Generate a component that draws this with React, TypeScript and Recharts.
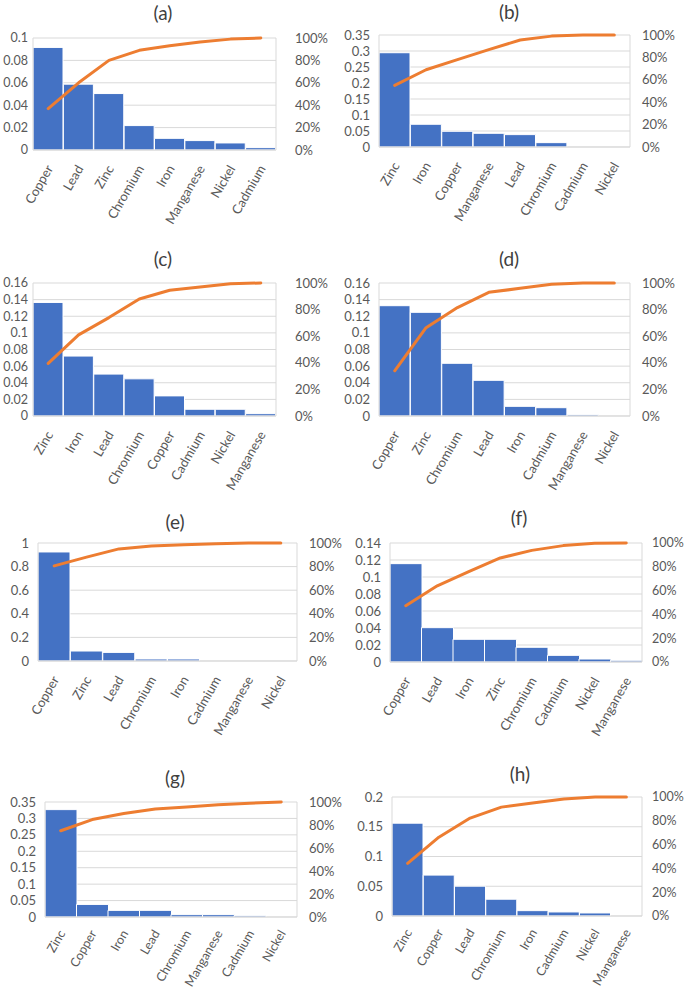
import React from 'react';
import { ComposedChart, Bar, Line, XAxis, YAxis, CartesianGrid } from 'recharts';

// ---- data ----
const catsA = ['Copper', 'Lead', 'Zinc', 'Chromium', 'Iron', 'Manganese', 'Nickel', 'Cadmium'];
const valsA = [0.0916, 0.0588, 0.0504, 0.0218, 0.0104, 0.0084, 0.0063, 0.0021];
const cumA = [37, 60, 80, 89, 93, 96.5, 99, 100];
const ticksA = [0, 0.02, 0.04, 0.06, 0.08, 0.1];

const catsB = ['Zinc', 'Iron', 'Copper', 'Manganese', 'Lead', 'Chromium', 'Cadmium', 'Nickel'];
const valsB = [0.2946, 0.071, 0.0491, 0.0428, 0.0387, 0.0136, 0, 0];
const cumB = [55, 69, 78, 87, 95.5, 99, 100, 100];
const ticksB = [0, 0.05, 0.1, 0.15, 0.2, 0.25, 0.3, 0.35];

const catsC = ['Zinc', 'Iron', 'Lead', 'Chromium', 'Copper', 'Cadmium', 'Nickel', 'Manganese'];
const valsC = [0.1366, 0.0721, 0.0504, 0.0447, 0.0242, 0.0081, 0.0081, 0.0028];
const cumC = [39.5, 61, 74, 88, 94.5, 97, 99.5, 100];
const ticksC = [0, 0.02, 0.04, 0.06, 0.08, 0.1, 0.12, 0.14, 0.16];

const catsD = ['Copper', 'Zinc', 'Chromium', 'Lead', 'Iron', 'Cadmium', 'Manganese', 'Nickel'];
const valsD = [0.1327, 0.1247, 0.0634, 0.0429, 0.0116, 0.01, 0.0016, 0];
const cumD = [34, 66.4, 81.5, 93, 96, 99, 100, 100];
const ticksD = [0, 0.02, 0.04, 0.06, 0.08, 0.1, 0.12, 0.14, 0.16];

const catsE = ['Copper', 'Zinc', 'Lead', 'Chromium', 'Iron', 'Cadmium', 'Manganese', 'Nickel'];
const valsE = [0.924, 0.0845, 0.073, 0.017, 0.017, 0, 0, 0];
const cumE = [80.6, 88, 95, 97.5, 98.6, 99.4, 100, 100];
const ticksE = [0, 0.2, 0.4, 0.6, 0.8, 1];

const catsF = ['Copper', 'Lead', 'Iron', 'Zinc', 'Chromium', 'Cadmium', 'Nickel', 'Manganese'];
const valsF = [0.1157, 0.0404, 0.0267, 0.0267, 0.0173, 0.0078, 0.0035, 0.002];
const cumF = [47.3, 64, 76, 87.4, 93.8, 97.8, 99.7, 100];
const ticksF = [0, 0.02, 0.04, 0.06, 0.08, 0.1, 0.12, 0.14];

const catsG = ['Zinc', 'Copper', 'Iron', 'Lead', 'Chromium', 'Manganese', 'Cadmium', 'Nickel'];
const valsG = [0.3268, 0.0383, 0.0202, 0.0202, 0.0071, 0.0071, 0.004, 0];
const cumG = [75, 84.7, 90, 94, 95.7, 97.7, 99, 100];
const ticksG = [0, 0.05, 0.1, 0.15, 0.2, 0.25, 0.3, 0.35];

const catsH = ['Zinc', 'Copper', 'Lead', 'Chromium', 'Iron', 'Cadmium', 'Nickel', 'Manganese'];
const valsH = [0.156, 0.0687, 0.0501, 0.0282, 0.009, 0.0068, 0.0051, 0];
const cumH = [44.2, 66.2, 82.3, 91.5, 95, 98.3, 100, 100];
const ticksH = [0, 0.05, 0.1, 0.15, 0.2];

const pctTicks = [0, 20, 40, 60, 80, 100];
const titles = ['(a)', '(b)', '(c)', '(d)', '(e)', '(f)', '(g)', '(h)'];

// ---- layout (page coords of plot areas and titles) ----
const panels = [
  { title: titles[0], cats: catsA, vals: valsA, cum: cumA, ticks: ticksA, L: 33, R: 276, T: 38, B: 150, tx: 163, ty: 13, lg: 5, lf: 12.5, rg: 19, rf: 13, xm: 16, xf: 13 },
  { title: titles[1], cats: catsB, vals: valsB, cum: cumB, ticks: ticksB, L: 379, R: 630, T: 35, B: 147, tx: 509, ty: 12, lg: 9, lf: 13, rg: 12, rf: 13, xm: 16, xf: 13 },
  { title: titles[2], cats: catsC, vals: valsC, cum: cumC, ticks: ticksC, L: 33, R: 276, T: 283, B: 416, tx: 163, ty: 259, lg: 5, lf: 12.5, rg: 19, rf: 13, xm: 16, xf: 13 },
  { title: titles[3], cats: catsD, vals: valsD, cum: cumD, ticks: ticksD, L: 379, R: 630, T: 283, B: 416, tx: 509, ty: 259, lg: 9, lf: 13, rg: 12, rf: 13, xm: 16, xf: 13 },
  { title: titles[4], cats: catsE, vals: valsE, cum: cumE, ticks: ticksE, L: 38, R: 297, T: 543, B: 661, tx: 175, ty: 522, lg: 9, lf: 13, rg: 12, rf: 13, xm: 16, xf: 13 },
  { title: titles[5], cats: catsF, vals: valsF, cum: cumF, ticks: ticksF, L: 390, R: 642, T: 543, B: 662, tx: 519, ty: 518, lg: 9, lf: 13, rg: 10, rf: 12.5, xm: 16, xf: 13 },
  { title: titles[6], cats: catsG, vals: valsG, cum: cumG, ticks: ticksG, L: 45, R: 297, T: 802, B: 917, tx: 175, ty: 778, lg: 9, lf: 13, rg: 12, rf: 13, xm: 14, xf: 12.5 },
  { title: titles[7], cats: catsH, vals: valsH, cum: cumH, ticks: ticksH, L: 392, R: 642, T: 797, B: 916, tx: 520, ty: 774, lg: 9, lf: 13, rg: 10, rf: 12.5, xm: 14, xf: 12.5 },
];

const FONT = 'Lato, "Open Sans", sans-serif';
const TXT = '#595959';

const fmt = (v: number) => String(Number(v.toFixed(3)));

const XTick = (props: any) => {
  const { x, y, payload, fs } = props;
  return (
    <text
      x={x + 1}
      y={y}
      transform={`rotate(-60 ${x + 1} ${y})`}
      textAnchor="end"
      dominantBaseline="central"
      fill={TXT}
      fontSize={fs}
      fontFamily={FONT}
    >
      {payload.value}
    </text>
  );
};

function Panel({ p }: { p: any }) {
  const data = p.cats.map((c: string, i: number) => ({ name: c, value: p.vals[i], cum: p.cum[i] }));
  const w = p.R - p.L + 120;
  const h = p.B - p.T + 110;
  const max = p.ticks[p.ticks.length - 1];
  return (
    <>
      <div
        style={{
          position: 'absolute',
          left: p.tx - 40,
          width: 80,
          top: p.ty - 12,
          height: 24,
          lineHeight: '24px',
          textAlign: 'center',
          fontSize: 19,
          color: '#404040',
          fontFamily: FONT,
        }}
      >
        {p.title}
      </div>
      <div style={{ position: 'absolute', left: p.L - 60, top: p.T - 10 }}>
        <ComposedChart
          width={w}
          height={h}
          data={data}
          margin={{ top: 10, right: 0, bottom: 0, left: 0 }}
          barCategoryGap={0}
          barGap={0}
        >
          <CartesianGrid yAxisId="left" vertical={false} stroke="#d9d9d9" />
          <XAxis
            dataKey="name"
            interval={0}
            height={100}
            tick={<XTick fs={p.xf} />}
            tickLine={false}
            tickSize={0}
            tickMargin={p.xm}
            axisLine={{ stroke: '#d9d9d9' }}
          />
          <YAxis
            yAxisId="left"
            orientation="left"
            width={60}
            domain={[0, max]}
            ticks={p.ticks}
            tickFormatter={fmt}
            tickLine={false}
            tickSize={0}
            tickMargin={p.lg}
            axisLine={{ stroke: '#d9d9d9' }}
            tick={{ fill: TXT, fontSize: p.lf, fontFamily: FONT }}
            allowDataOverflow
            interval={0}
          />
          <YAxis
            yAxisId="right"
            orientation="right"
            width={60}
            domain={[0, 100]}
            ticks={pctTicks}
            tickFormatter={(v: number) => `${v}%`}
            tickLine={false}
            tickSize={0}
            tickMargin={p.rg}
            axisLine={{ stroke: '#d9d9d9' }}
            tick={{ fill: TXT, fontSize: p.rf, fontFamily: FONT, textAnchor: 'start' }}
            interval={0}
          />
          <Bar yAxisId="left" dataKey="value" fill="#4472C4" stroke="#ffffff" strokeWidth={1} isAnimationActive={false} />
          <Line
            yAxisId="right"
            dataKey="cum"
            type="linear"
            stroke="#ED7D31"
            strokeWidth={3}
            strokeLinecap="round"
            strokeLinejoin="round"
            dot={false}
            activeDot={false}
            isAnimationActive={false}
          />
        </ComposedChart>
      </div>
    </>
  );
}

export default function App() {
  return (
    <div
      style={{
        position: 'absolute',
        left: 0,
        top: 0,
        width: 685,
        height: 991,
        overflow: 'hidden',
        background: '#ffffff',
        fontFamily: FONT,
      }}
    >
      {panels.map((p, i) => (
        <Panel key={i} p={p} />
      ))}
    </div>
  );
}
